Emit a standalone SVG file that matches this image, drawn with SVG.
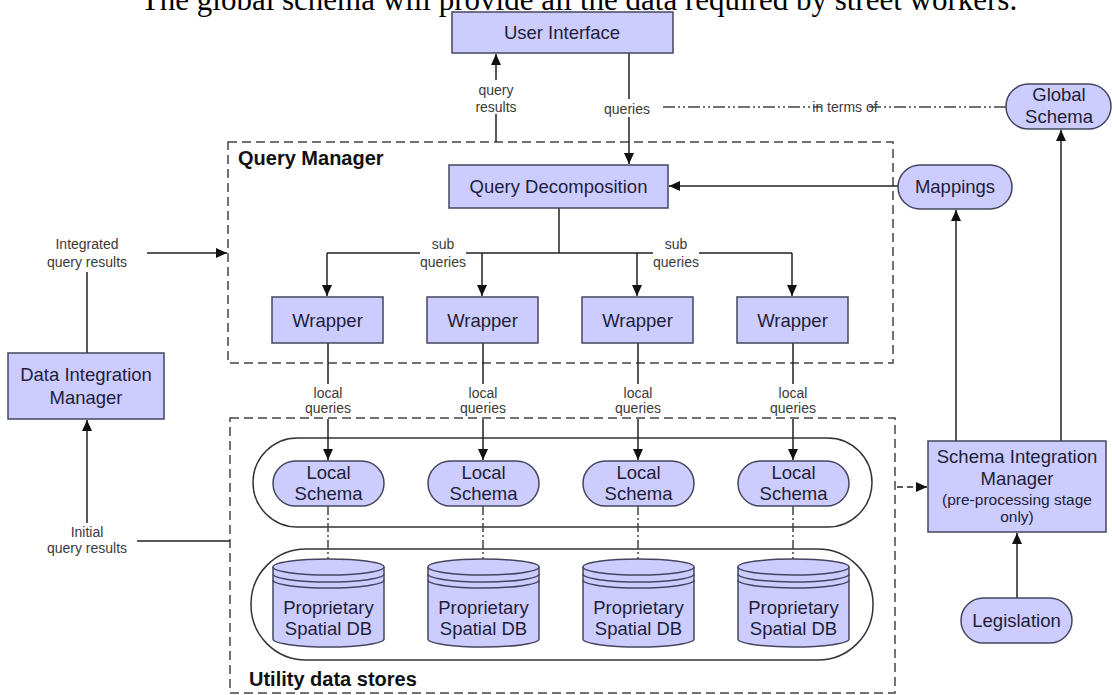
<svg xmlns="http://www.w3.org/2000/svg" width="1112" height="695" viewBox="0 0 1112 695">
  <defs>
    <marker id="arrow" markerUnits="userSpaceOnUse" markerWidth="12" markerHeight="11" refX="11" refY="5" orient="auto">
      <path d="M0,0 L11,5 L0,10 z" fill="#111"/>
    </marker>
    <style>
      .box { fill: #ccccff; stroke: #45455f; stroke-width: 1.5; }
      .node { font-family: "Liberation Sans", Arial, sans-serif; font-size: 18.5px; fill: #1e1e3a; text-anchor: middle; }
      .small { font-family: "Liberation Sans", Arial, sans-serif; font-size: 15.5px; fill: #1e1e3a; text-anchor: middle; }
      .lbl { font-family: "Liberation Sans", Arial, sans-serif; font-size: 14px; fill: #3a3a3a; text-anchor: middle; }
      .title { font-family: "Liberation Sans", Arial, sans-serif; font-size: 20px; font-weight: bold; fill: #111; }
      .line { fill: none; stroke: #222; stroke-width: 1.5; }
      .arr { fill: none; stroke: #222; stroke-width: 1.5; marker-end: url(#arrow); }
      .dashbox { fill: none; stroke: #444; stroke-width: 1.5; stroke-dasharray: 9 5; }
      .container { fill: none; stroke: #333; stroke-width: 1.5; }
      .dashdot { fill: none; stroke: #444; stroke-width: 1.5; stroke-dasharray: 9 3 2 3; }
      .dashdotdot { fill: none; stroke: #444; stroke-width: 1.5; stroke-dasharray: 12 3 2 3 2 3; }
    </style>
  </defs>

  <rect width="1112" height="695" fill="#ffffff"/>

  <!-- caption line above the diagram -->
  <text x="579" y="10" font-family="Liberation Serif, Times New Roman, serif" font-size="31" text-anchor="middle" fill="#000">The global schema will provide all the data required by street workers.</text>

  <!-- grouping frames -->
  <g id="query-manager">
    <rect class="dashbox" x="228" y="142" width="665" height="221"/>
    <text class="title" x="238" y="165">Query Manager</text>
  </g>
  <g id="utility-data-stores">
    <rect class="dashbox" x="230" y="418" width="665" height="275"/>
    <text class="title" x="249" y="686">Utility data stores</text>
    <rect class="container" x="253" y="438" width="619" height="89" rx="44.5"/>
    <rect class="container" x="251" y="549" width="622" height="111" rx="55"/>
  </g>

  <!-- connectors -->
  <g id="connectors">
    <!-- user interface links -->
    <path class="arr" d="M496,80 V54"/>
    <path class="line" d="M496,142 V114"/>
    <text class="lbl" x="496" y="95">query</text>
    <text class="lbl" x="496" y="112">results</text>
    <path class="line" d="M629,53 V99"/>
    <path class="arr" d="M629,117 V164"/>
    <text class="lbl" x="627" y="114">queries</text>
    <path class="dashdotdot" d="M663,107 H821"/>
    <path class="dashdotdot" d="M869,107 H1006"/>
    <text class="lbl" x="845" y="112">in terms of</text>

    <!-- mappings to decomposition -->
    <path class="arr" d="M898,186 H669"/>

    <!-- sub queries fan-out -->
    <path class="line" d="M559,208 V253"/>
    <path class="line" d="M327,253 H420 M466,253 H653 M699,253 H792"/>
    <text class="lbl" x="443" y="249">sub</text>
    <text class="lbl" x="443" y="267">queries</text>
    <text class="lbl" x="676" y="249">sub</text>
    <text class="lbl" x="676" y="267">queries</text>
    <path class="arr" d="M327,253 V296"/>
    <path class="arr" d="M482,253 V296"/>
    <path class="arr" d="M637,253 V296"/>
    <path class="arr" d="M792,253 V296"/>

    <!-- local queries -->
    <path class="line" d="M328,343 V384 M483,343 V384 M638,343 V384 M793,343 V384"/>
    <path class="arr" d="M328,419 V460"/>
    <path class="arr" d="M483,419 V460"/>
    <path class="arr" d="M638,419 V460"/>
    <path class="arr" d="M793,419 V460"/>
    <text class="lbl" x="328" y="398">local</text>
    <text class="lbl" x="328" y="413">queries</text>
    <text class="lbl" x="483" y="398">local</text>
    <text class="lbl" x="483" y="413">queries</text>
    <text class="lbl" x="638" y="398">local</text>
    <text class="lbl" x="638" y="413">queries</text>
    <text class="lbl" x="793" y="398">local</text>
    <text class="lbl" x="793" y="413">queries</text>

    <!-- schema to store links -->
    <path class="dashdot" d="M328,506 V559 M483,506 V559 M638,506 V559 M793,506 V559"/>

    <!-- data integration manager links -->
    <path class="line" d="M87,353 V272"/>
    <text class="lbl" x="87" y="249">Integrated</text>
    <text class="lbl" x="87" y="267">query results</text>
    <path class="arr" d="M147,253 H227"/>
    <path class="arr" d="M87,523 V420"/>
    <text class="lbl" x="87" y="537">Initial</text>
    <text class="lbl" x="87" y="553">query results</text>
    <path class="line" d="M137,541 H230"/>

    <!-- schema integration links -->
    <path class="line" d="M897,487 H916" stroke-dasharray="6 4"/>
    <path class="arr" d="M916,487 H927"/>
    <path class="arr" d="M1017,598 V533"/>
    <path class="arr" d="M956,441 V210"/>
    <path class="arr" d="M1061,441 V130"/>
  </g>

  <!-- nodes -->
  <g id="user-interface">
    <rect class="box" x="452" y="12" width="221" height="41"/>
    <text class="node" x="562" y="39">User Interface</text>
  </g>
  <g id="global-schema">
    <rect class="box" x="1006" y="84" width="105" height="45" rx="22.5"/>
    <text class="node" x="1059" y="101">Global</text>
    <text class="node" x="1059" y="123">Schema</text>
  </g>
  <g id="query-decomposition">
    <rect class="box" x="449" y="165" width="219" height="43"/>
    <text class="node" x="558.5" y="193">Query Decomposition</text>
  </g>
  <g id="mappings">
    <rect class="box" x="898" y="165" width="114" height="44" rx="22"/>
    <text class="node" x="955" y="193">Mappings</text>
  </g>
  <g id="wrapper-1">
    <rect class="box" x="272" y="297" width="111" height="46"/>
    <text class="node" x="327.5" y="326.5">Wrapper</text>
  </g>
  <g id="wrapper-2">
    <rect class="box" x="427" y="297" width="111" height="46"/>
    <text class="node" x="482.5" y="326.5">Wrapper</text>
  </g>
  <g id="wrapper-3">
    <rect class="box" x="582" y="297" width="111" height="46"/>
    <text class="node" x="637.5" y="326.5">Wrapper</text>
  </g>
  <g id="wrapper-4">
    <rect class="box" x="737" y="297" width="111" height="46"/>
    <text class="node" x="792.5" y="326.5">Wrapper</text>
  </g>

  <g id="local-schema-1">
    <rect class="box" x="273" y="461" width="111" height="45" rx="22.5"/>
    <text class="node" x="328.5" y="478.5">Local</text>
    <text class="node" x="328.5" y="499.5">Schema</text>
  </g>
  <g id="local-schema-2">
    <rect class="box" x="428" y="461" width="111" height="45" rx="22.5"/>
    <text class="node" x="483.5" y="478.5">Local</text>
    <text class="node" x="483.5" y="499.5">Schema</text>
  </g>
  <g id="local-schema-3">
    <rect class="box" x="583" y="461" width="111" height="45" rx="22.5"/>
    <text class="node" x="638.5" y="478.5">Local</text>
    <text class="node" x="638.5" y="499.5">Schema</text>
  </g>
  <g id="local-schema-4">
    <rect class="box" x="738" y="461" width="111" height="45" rx="22.5"/>
    <text class="node" x="793.5" y="478.5">Local</text>
    <text class="node" x="793.5" y="499.5">Schema</text>
  </g>

  <!-- database cylinder shape, reused for each store -->
  <defs>
    <g id="cylinder">
      <path class="box" d="M-55.5,0 A55.5,8 0 0 1 55.5,0 V72 A55.5,8 0 0 1 -55.5,72 Z"/>
      <path fill="none" stroke="#45455f" stroke-width="1.5" d="M-55.5,0 A55.5,8 0 0 0 55.5,0 M-55.5,7 A55.5,8 0 0 0 55.5,7 M-55.5,13 A55.5,8 0 0 0 55.5,13"/>
    </g>
  </defs>
  <g id="spatial-db-1">
    <use href="#cylinder" x="328.5" y="567"/>
    <text class="node" x="328.5" y="613.5">Proprietary</text>
    <text class="node" x="328.5" y="634.5">Spatial DB</text>
  </g>
  <g id="spatial-db-2">
    <use href="#cylinder" x="483.5" y="567"/>
    <text class="node" x="483.5" y="613.5">Proprietary</text>
    <text class="node" x="483.5" y="634.5">Spatial DB</text>
  </g>
  <g id="spatial-db-3">
    <use href="#cylinder" x="638.5" y="567"/>
    <text class="node" x="638.5" y="613.5">Proprietary</text>
    <text class="node" x="638.5" y="634.5">Spatial DB</text>
  </g>
  <g id="spatial-db-4">
    <use href="#cylinder" x="793.5" y="567"/>
    <text class="node" x="793.5" y="613.5">Proprietary</text>
    <text class="node" x="793.5" y="634.5">Spatial DB</text>
  </g>

  <g id="data-integration-manager">
    <rect class="box" x="8" y="353" width="156" height="66"/>
    <text class="node" x="86" y="380.5">Data Integration</text>
    <text class="node" x="86" y="403.5">Manager</text>
  </g>
  <g id="schema-integration-manager">
    <rect class="box" x="928" y="441" width="178" height="91"/>
    <text class="node" x="1017" y="462.5">Schema Integration</text>
    <text class="node" x="1017" y="484.5">Manager</text>
    <text class="small" x="1017" y="505">(pre-processing stage</text>
    <text class="small" x="1017" y="522">only)</text>
  </g>
  <g id="legislation">
    <rect class="box" x="961" y="598" width="111" height="45" rx="22.5"/>
    <text class="node" x="1016.5" y="627">Legislation</text>
  </g>
</svg>
